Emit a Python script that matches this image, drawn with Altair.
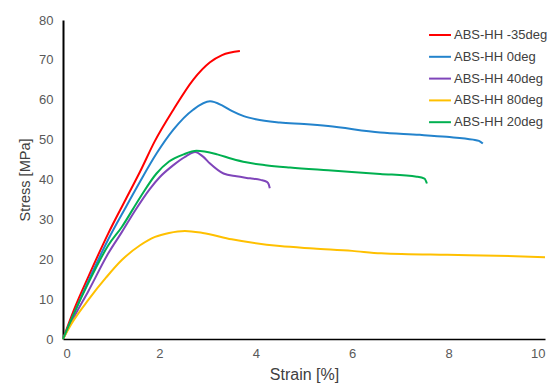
import altair as alt
import pandas as pd

series_names = ["ABS-HH -35deg", "ABS-HH 0deg", "ABS-HH 40deg", "ABS-HH 80deg", "ABS-HH 20deg"]
series_colors = ["#FF0000", "#2383CC", "#7F45BA", "#FFC000", "#00B050"]

red_x = [0, 0.25, 0.525, 0.94, 1.3, 1.6, 1.9, 2.29, 2.7, 3.05, 3.3, 3.67]
red_y = [0, 8, 15.6, 26.5, 35, 42, 49.5, 57.5, 65, 69.4, 71.2, 72.2]

blue_x = [0, 0.25, 0.525, 0.94, 1.3, 1.6, 1.94, 2.29, 2.7, 3.05, 3.3, 3.5, 3.75, 4.0, 4.5, 5.0, 5.5, 6.58, 7.4, 7.96, 8.51, 8.63, 8.71]
blue_y = [0, 7, 14.5, 25, 33, 39.5, 46.5, 52.5, 57.5, 59.6, 58.6, 57.2, 55.9, 55.1, 54.3, 53.9, 53.4, 51.8, 51.2, 50.7, 50.0, 49.7, 49.0]

purple_x = [0, 0.25, 0.525, 0.94, 1.22, 1.5, 1.8, 2.0, 2.29, 2.55, 2.74, 2.9, 3.05, 3.33, 3.6, 3.88, 4.1, 4.23, 4.27, 4.29]
purple_y = [0, 6, 12, 21.5, 26.8, 32.3, 37.6, 40.5, 43.6, 45.8, 46.9, 45.8, 44.0, 41.5, 40.8, 40.3, 39.9, 39.4, 38.7, 37.8]

yellow_x = [0, 0.18, 0.525, 0.9, 1.22, 1.6, 1.91, 2.2, 2.53, 2.9, 3.5, 4.5, 5.2, 6.0, 6.6, 7.97, 9.0, 10.0]
yellow_y = [0, 3.9, 9.8, 15.5, 19.8, 23.5, 25.6, 26.6, 27.1, 26.6, 25.0, 23.3, 22.7, 22.1, 21.5, 21.1, 20.9, 20.5]

green_x = [0, 0.25, 0.525, 0.94, 1.22, 1.6, 1.94, 2.2, 2.5, 2.77, 3.2, 3.5, 3.8, 4.2, 4.71, 5.5, 6.58, 7.34, 7.5, 7.55]
green_y = [0, 7, 14, 23.5, 28.1, 35.5, 41.5, 44.5, 46.3, 47.2, 46.3, 45.2, 44.3, 43.6, 43.0, 42.3, 41.4, 40.7, 40.2, 39.0]

all_x = [red_x, blue_x, purple_x, yellow_x, green_x]
all_y = [red_y, blue_y, purple_y, yellow_y, green_y]

rows = []
for name, xs, ys in zip(series_names, all_x, all_y):
    for i, (xv, yv) in enumerate(zip(xs, ys)):
        rows.append({"series": name, "strain": xv, "stress": yv, "idx": i})
df = pd.DataFrame(rows)

FONT = "Liberation Sans"

chart = alt.Chart(df).mark_line(strokeWidth=2, interpolate="monotone").encode(
    x=alt.X("strain:Q", title="Strain [%]",
            scale=alt.Scale(domain=[0, 10], nice=False),
            axis=alt.Axis(values=[0, 2, 4, 6, 8, 10], ticks=False, grid=False,
                          domainColor="#000000", domainWidth=1.5,
                          labelColor="#595959", labelFontSize=13, labelFont=FONT,
                          labelPadding=8, titleFont=FONT, titleFontSize=16,
                          titleFontWeight="normal", titleColor="#404040", titlePadding=6)),
    y=alt.Y("stress:Q", title="Stress [MPa]",
            scale=alt.Scale(domain=[0, 80], nice=False),
            axis=alt.Axis(values=[0, 10, 20, 30, 40, 50, 60, 70, 80], ticks=False, grid=False,
                          domainColor="#000000", domainWidth=2,
                          labelColor="#595959", labelFontSize=13, labelFont=FONT,
                          labelPadding=10, titleFont=FONT, titleFontSize=14.5,
                          titleFontWeight="normal", titleColor="#404040", titlePadding=6)),
    color=alt.Color("series:N",
                    scale=alt.Scale(domain=series_names, range=series_colors),
                    legend=alt.Legend(title=None, orient="none", legendX=365, legendY=3,
                                      symbolType="stroke", symbolSize=480,
                                      symbolStrokeWidth=2, rowPadding=2.8,
                                      labelFont=FONT, labelFontSize=13, labelColor="#404040",
                                      labelOffset=2, padding=0)),
    order="idx:Q",
).properties(
    width=482, height=319,
    autosize=alt.AutoSizeParams(type="none"),
    padding={"left": 55, "top": 12, "right": 3, "bottom": 50},
).configure_view(stroke=None)

chart.save("out.html", embed_options={"renderer": "svg", "actions": False})
